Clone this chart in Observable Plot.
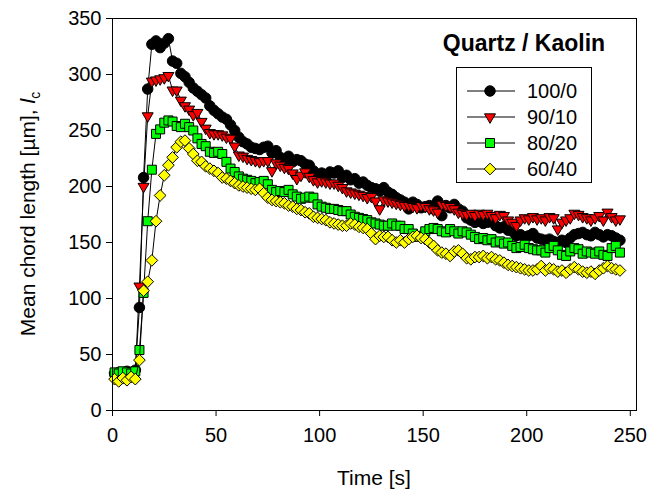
<!DOCTYPE html>
<html><head><meta charset="utf-8">
<script src="https://cdn.jsdelivr.net/npm/d3@7"></script>
<script src="https://cdn.jsdelivr.net/npm/@observablehq/plot@0.6"></script>
<style>
body{margin:0;background:#fff;}
#chart{position:relative;width:649px;height:493px;}
</style>
</head><body><div id="chart"></div>
<script>
// sampling: first sample time and step (s)
const tStart = 1, tStep = 2;
const seriesNames = ["100/0", "90/10", "80/20", "60/40"];
const s100_0 = [
 33,34,33,35,34,36,92,208,287,327,
 330,324,328,332,312,310,301,298,293,288,
 285,282,279,272,268,265,262,260,255,250,
 244,240,238,235,234,233,235,236,230,232,
 226,224,227,222,224,223,220,219,214,210,
 212,209,213,212,214,208,210,206,207,203,
 204,201,199,198,196,199,195,193,190,188,
 186,180,186,184,181,182,183,180,187,174,
 183,181,184,180,178,172,170,168,169,167,
 168,170,165,163,164,161,160,156,157,155,
 156,158,154,153,152,153,151,150,152,150,
 154,157,158,159,157,156,159,157,155,157,
 156,154,152];
const s90_10 = [
 31,32,30,33,31,34,111,200,263,294,
 295,296,297,299,286,286,277,272,269,264,
 266,258,252,248,247,247,246,244,243,236,
 228,227,225,224,223,222,223,223,214,221,
 219,217,216,212,207,210,213,209,206,204,
 205,204,203,203,201,199,196,195,194,193,
 192,190,191,187,180,188,187,186,185,184,
 183,183,182,181,183,182,180,179,177,184,
 183,182,180,177,176,175,176,174,176,175,
 176,174,172,175,174,170,168,165,170,172,
 171,173,171,172,170,173,172,162,168,170,
 172,176,175,173,172,170,172,174,170,177,
 173,170,171];
const s80_20 = [
 34,33,35,34,33,35,54,105,169,215,
 247,251,257,259,258,254,253,256,253,250,
 243,238,236,231,230,231,229,222,216,213,
 209,207,206,205,203,204,205,202,197,195,
 196,195,197,193,191,189,190,191,190,184,
 182,181,180,180,179,178,178,175,173,172,
 171,170,168,167,166,165,165,167,165,165,
 162,162,158,155,156,160,162,163,162,160,
 159,162,160,158,160,159,157,155,153,154,
 152,153,150,151,149,150,147,145,146,148,
 145,144,143,143,141,145,147,143,139,138,
 142,145,144,140,142,141,140,142,139,138,
 145,147,141];
const s60_40 = [
 28,26,29,27,30,28,45,107,115,134,
 169,192,210,219,226,235,240,241,234,229,
 223,222,218,216,214,212,208,207,205,203,
 201,200,199,198,197,198,194,190,188,187,
 186,185,183,182,180,179,177,176,173,172,
 171,170,168,167,166,165,165,167,166,164,
 163,162,158,153,156,155,155,152,150,152,
 150,153,155,156,154,153,150,147,143,141,
 140,138,142,143,140,136,135,137,137,138,
 136,137,135,134,132,130,129,128,127,126,
 125,125,126,129,125,127,126,124,125,123,
 126,128,126,124,123,124,122,125,127,129,
 127,126,125];
const xTicks = [0, 50, 100, 150, 200, 250];
const yTicks = [0, 50, 100, 150, 200, 250, 300, 350];
const legendTitle = "Quartz / Kaolin";
const xTitle = "Time [s]";

// custom symbols (size = pi*r^2 as passed by Plot)
const rOf = size => Math.sqrt(size / Math.PI);
const symCircle = {draw(ctx, size){ const r = rOf(size)*1.05; ctx.moveTo(r,0); ctx.arc(0,0,r,0,2*Math.PI); ctx.closePath(); }};
const symTriDown = {draw(ctx, size){ const r = rOf(size); ctx.moveTo(-1.1*r,-0.63*r); ctx.lineTo(1.1*r,-0.63*r); ctx.lineTo(0,1.27*r); ctx.closePath(); }};
const symSquare = {draw(ctx, size){ const r = rOf(size)*0.9; ctx.rect(-r,-r,2*r,2*r); }};
const symDiamond = {draw(ctx, size){ const d = rOf(size)*1.17; ctx.moveTo(0,-d); ctx.lineTo(d,0); ctx.lineTo(0,d); ctx.lineTo(-d,0); ctx.closePath(); }};

const styles = [
  {vals: s100_0, fill: "#000000", sym: symCircle},
  {vals: s90_10, fill: "#ff0000", sym: symTriDown},
  {vals: s80_20, fill: "#00ff00", sym: symSquare},
  {vals: s60_40, fill: "#ffff00", sym: symDiamond}
];
const R = 5;

const marks = [];
styles.forEach((st, k) => {
  const data = st.vals.map((v, i) => ({t: tStart + i * tStep, v, s: seriesNames[k]}));
  marks.push(Plot.line(data, {x: "t", y: "v", stroke: "black", strokeWidth: 1}));
  marks.push(Plot.dot(data, {x: "t", y: "v", r: R, symbol: st.sym, fill: st.fill, stroke: "black", strokeWidth: 1}));
});

const W = 649, H = 493;
const chart = Plot.plot({
  width: W, height: H,
  marginLeft: 112, marginTop: 18, marginRight: 13, marginBottom: 83,
  style: {fontFamily: "'Liberation Sans', Arial, sans-serif", fontSize: "20px", color: "black", background: "white", overflow: "visible"},
  x: {domain: [0, 253]},
  y: {domain: [0, 350]},
  marks: [
    Plot.axisX({ticks: xTicks, tickSize: 6, tickPadding: 11, label: null, fontSize: 20}),
    Plot.axisY({ticks: yTicks, tickSize: 6, tickPadding: 5, label: null, fontSize: 20}),
    ...marks,
    Plot.frame({stroke: "black", strokeWidth: 1})
  ]
});
document.getElementById("chart").appendChild(chart);

const svg = d3.select(chart);
const font = "'Liberation Sans', Arial, sans-serif";
const xs = chart.scale("x"), ys = chart.scale("y");
const x0 = xs.range[0], x1 = xs.range[1], y0 = ys.range[0], y1 = ys.range[1];

// axis titles
svg.append("text").attr("x", (x0 + x1) / 2).attr("y", 485)
  .attr("text-anchor", "middle").attr("font-family", font).attr("font-size", 21).attr("fill", "black")
  .text(xTitle);
const yt = svg.append("text").attr("transform", `translate(35,${(y0 + y1) / 2}) rotate(-90)`)
  .attr("text-anchor", "middle").attr("font-family", font).attr("font-size", 21).attr("fill", "black");
yt.append("tspan").text("Mean chord length [µm], ");
yt.append("tspan").attr("font-style", "italic").text("l");
yt.append("tspan").attr("font-size", 14).attr("dy", 5).text("c");

// legend
const lg = svg.append("g");
lg.append("text").attr("x", 524).attr("y", 51).attr("text-anchor", "middle")
  .attr("font-family", font).attr("font-size", 23).attr("font-weight", "bold").attr("fill", "black").text(legendTitle);
lg.append("rect").attr("x", 456.5).attr("y", 67.5).attr("width", 135).attr("height", 115)
  .attr("fill", "white").attr("stroke", "black").attr("stroke-width", 1);
styles.forEach((st, k) => {
  const cy = 91 + k * 26;
  lg.append("line").attr("x1", 467).attr("x2", 515).attr("y1", cy).attr("y2", cy).attr("stroke", "black");
  lg.append("path").attr("transform", `translate(490,${cy})`)
    .attr("d", d3.symbol().type(st.sym).size(R * R * Math.PI)())
    .attr("fill", st.fill).attr("stroke", "black");
  lg.append("text").attr("x", 527).attr("y", cy).attr("dy", "0.36em").attr("text-anchor", "start")
    .attr("font-family", font).attr("font-size", 20).attr("fill", "black").text(seriesNames[k]);
});
</script>
</body></html>
